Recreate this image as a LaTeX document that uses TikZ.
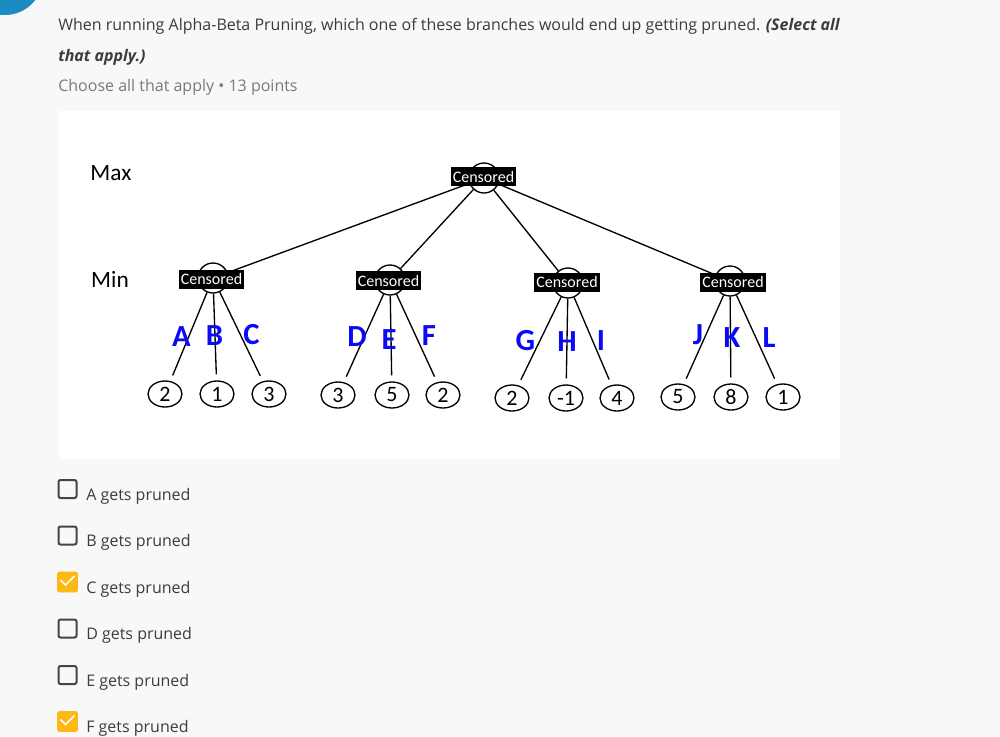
\documentclass[tikz,border=0pt]{standalone}
\usepackage{fontspec}
\setmainfont{Open Sans}
\newfontfamily\treefont{Carlito}
\usetikzlibrary{shapes.geometric}
\definecolor{pagebg}{HTML}{F8F8F8}
\definecolor{qtext}{HTML}{3C3C3C}
\definecolor{qgray}{HTML}{7A7A7A}
\definecolor{badge}{HTML}{1A8CC1}
\definecolor{tick}{HTML}{FDB813}
\definecolor{boxline}{HTML}{454545}
\definecolor{branchblue}{HTML}{0A0AF5}
\tikzset{
  tnode/.style={circle, draw, line width=1pt, minimum size=22.5pt, inner sep=0pt},
  leaf/.style={ellipse, draw, line width=1pt, minimum width=25.5pt, minimum height=19.5pt,
    inner sep=0pt, font=\treefont\fontsize{16.5}{16.5}\selectfont},
  censor/.style={fill=black, text=white, inner xsep=1.5pt, inner ysep=0pt,
    minimum height=14.25pt, font=\treefont\fontsize{12}{12}\selectfont},
  branch/.style={text=branchblue, inner sep=0pt, font=\treefont\bfseries\fontsize{23}{23}\selectfont},
  level/.style={font=\treefont\fontsize{17.5}{17.5}\selectfont},
  edge/.style={line width=1pt},
  cbox/.style={draw=boxline, line width=1.5pt, rounded corners=1.5pt, minimum size=13.5pt, inner sep=0pt},
  ticked/.style={fill=tick, draw=tick, line width=0.5pt, rounded corners=1.5pt, minimum size=15pt, inner sep=0pt},
  answer/.style={anchor=base west, inner sep=0pt, text=qtext, font=\fontsize{12}{12}\selectfont}
}

\begin{document}
\begin{tikzpicture}[x=0.75pt, y=-0.75pt]
\useasboundingbox (0,0) rectangle (1000,736);
\begin{scope}
\clip (0,0) rectangle (1000,736);
\fill[pagebg] (0,0) rectangle (1000,736);
\fill[badge] (5,-23) circle (28.5pt);
\end{scope}
\fill[white] (58,111) rectangle (840,459);

% question text
\node[answer] (q1) at (58,30) {When running Alpha-Beta Pruning, which one of these branches would end up getting pruned. \textbf{\textit{(Select all}}};
\node[answer] (q2) at (58,61) {\textbf{\textit{that apply.)}}};
\node[answer, text=qgray] (q3) at (58,91) {Choose all that apply • 13 points};

% levels
\node[level] (max) at (111,173) {Max};
\node[level] (min) at (110,279) {Min};

% root and min nodes
\node[tnode] (root) at (484,178) {};
\node[tnode] (m1) at (213,278) {};
\node[tnode] (m2) at (390,280) {};
\node[tnode] (m3) at (568,283) {};
\node[tnode] (m4) at (730,281) {};
\foreach \m in {1,...,4}
  \draw[edge] (root) -- (m\m);

% leaves
\foreach \b/\m/\x/\y/\v in {A/1/165/394/2, B/1/217/394/1, C/1/269/394/3,
    D/2/338/395/3, E/2/392/395/5, F/2/443/395/2,
    G/3/512/398/2, H/3/566/398/-1, I/3/617/398/4,
    J/4/678/397/5, K/4/731/397/8, L/4/783/397/1} {
  \node[leaf] (l\b) at (\x,\y) {\v};
  \draw[edge, shorten >=4.5pt] (m\m) -- (l\b);
}

% censored labels
\node[censor] (c0) at (483.5,176.5) {Censored};
\node[censor] (c1) at (211.5,279) {Censored};
\node[censor] (c2) at (388.5,280.5) {Censored};
\node[censor] (c3) at (567,282) {Censored};
\node[censor] (c4) at (733,282) {Censored};

% branch letters
\foreach \b/\x/\y in {A/181.5/337, B/214.5/335.5, C/251.5/335, D/357/337, E/389/340, F/429/335.5,
    G/525.5/340.5, H/567/342, I/601/341, J/698/335, K/732/337.5, L/769/337.5}
  \node[branch] (t\b) at (\x,\y) {\b};

% answers
\foreach \i/\b/\c in {0/A/0, 1/B/0, 2/C/1, 3/D/0, 4/E/0, 5/F/1} {
  \ifnum\c=1
    \node[ticked] (box\b) at (67.5,489+46.5*\i) {};
    \draw[white, line width=1.2pt] ([shift={(-7,-2)}]box\b.center) -- ([shift={(-2,3)}]box\b.center)
      -- ([shift={(7,-6)}]box\b.center);
  \else
    \node[cbox] (box\b) at (67.5,489+46.5*\i) {};
  \fi
  \node[answer] (ans\b) at (86,500+46.5*\i) {\b{} gets pruned};
}
\end{tikzpicture}
\end{document}
